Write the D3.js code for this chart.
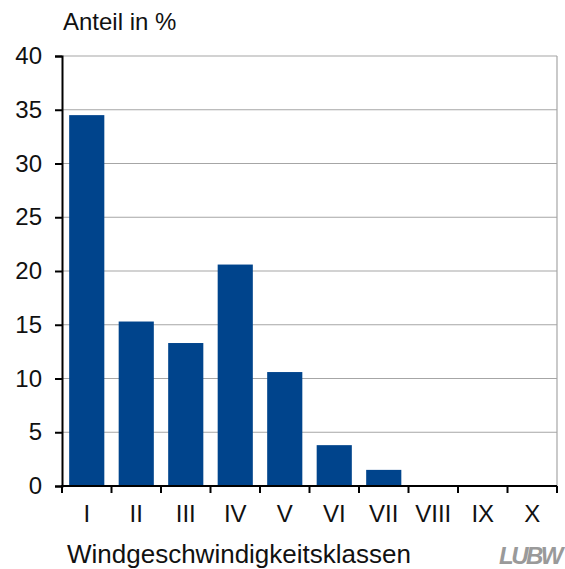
<!DOCTYPE html>
<html>
<head>
<meta charset="utf-8">
<script src="https://cdn.jsdelivr.net/npm/d3@7"></script>
<style>
  html, body { margin: 0; padding: 0; background: #fff; }
  text { font-family: "Liberation Sans", Arial, sans-serif; }
</style>
</head>
<body>
<svg id="chart" width="565" height="569"></svg>
<script>
// Windgeschwindigkeitsklassen und Anteil in %
const categories = ["I", "II", "III", "IV", "V", "VI", "VII", "VIII", "IX", "X"];
const values = [34.5, 15.3, 13.3, 20.6, 10.6, 3.8, 1.5, 0, 0, 0];
const yTicks = [0, 5, 10, 15, 20, 25, 30, 35, 40];

const svg = d3.select("#chart");
const plotLeft = 62, plotRight = 557, plotTop = 56, plotBottom = 486;

const x = d3.scaleBand().domain(categories).range([plotLeft, plotRight]).paddingInner(0.29).paddingOuter(0.145);
const xBand = d3.scaleBand().domain(categories).range([plotLeft, plotRight]);
const y = d3.scaleLinear().domain([0, 40]).range([plotBottom, plotTop]);

// horizontal gridlines
svg.append("g").selectAll("line").data(yTicks.filter(d => d > 0)).join("line")
  .attr("x1", plotLeft).attr("x2", plotRight)
  .attr("y1", d => y(d)).attr("y2", d => y(d))
  .attr("stroke", "#a6a6a6").attr("stroke-width", 1.2);

// right border of plot area
svg.append("line").attr("x1", plotRight).attr("x2", plotRight).attr("y1", plotTop).attr("y2", plotBottom)
  .attr("stroke", "#a6a6a6").attr("stroke-width", 1.2);

// bars
svg.append("g").selectAll("rect").data(values.map((v, i) => ({ c: categories[i], v }))).join("rect")
  .attr("x", d => x(d.c)).attr("width", x.bandwidth())
  .attr("y", d => y(d.v)).attr("height", d => y(0) - y(d.v))
  .attr("fill", "#00448c");

// y axis
const yAxis = svg.append("g").attr("transform", `translate(${plotLeft},0)`)
  .call(d3.axisLeft(y).tickValues(yTicks).tickSize(7).tickPadding(13));
yAxis.select(".domain").attr("stroke", "#000").attr("stroke-width", 2);
yAxis.selectAll(".tick line").attr("stroke", "#000").attr("stroke-width", 2);
yAxis.selectAll(".tick text").attr("font-size", 24).attr("fill", "#111")
  .attr("font-family", "Liberation Sans, Arial, sans-serif");

// x axis: ticks at category boundaries
const bounds = categories.map(c => xBand(c)).concat([plotRight]);
svg.append("line").attr("x1", plotLeft - 1).attr("x2", plotRight).attr("y1", plotBottom).attr("y2", plotBottom)
  .attr("stroke", "#000").attr("stroke-width", 2);
svg.append("g").selectAll("line").data(bounds).join("line")
  .attr("x1", d => d).attr("x2", d => d)
  .attr("y1", plotBottom).attr("y2", plotBottom + 7)
  .attr("stroke", "#000").attr("stroke-width", 2);
svg.append("g").selectAll("text").data(categories).join("text")
  .attr("x", d => xBand(d) + xBand.bandwidth() / 2)
  .attr("y", 522)
  .attr("text-anchor", "middle")
  .attr("font-size", 24).attr("fill", "#111")
  .text(d => d);

// titles
svg.append("text").attr("x", 63).attr("y", 30).attr("font-size", 24).attr("fill", "#111").text("Anteil in %");
svg.append("text").attr("x", 67).attr("y", 563).attr("font-size", 26).attr("fill", "#111").text("Windgeschwindigkeitsklassen");

// logo
svg.append("text").attr("x", 561).attr("y", 564).attr("text-anchor", "end")
  .attr("font-size", 24).attr("font-weight", "bold").attr("font-style", "italic")
  .attr("letter-spacing", -2.5).attr("fill", "#9a9a9a")
  .text("LUBW");
</script>
</body>
</html>
